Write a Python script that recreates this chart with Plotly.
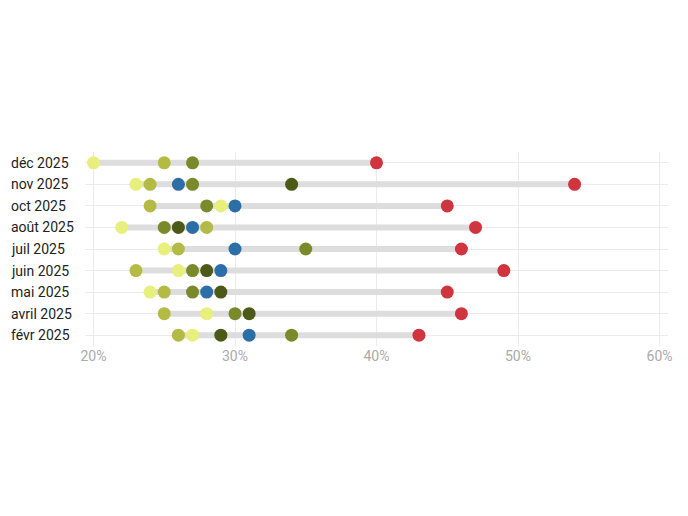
import plotly.graph_objects as go

months = ["déc 2025", "nov 2025", "oct 2025", "août 2025", "juil 2025",
          "juin 2025", "mai 2025", "avril 2025", "févr 2025"]

# values in percent, one list per series (None = absent)
s_yellow = [20, 23, 29, 22, 25, 26, 24, 28, 27]
s_light = [25, 24, 24, 28, 26, 23, 25, 25, 26]
s_mid = [27, 27, 28, 25, 35, 27, 27, 30, 34]
s_dark = [None, 34, None, 26, None, 28, 29, 31, 29]
s_blue = [None, 26, 30, 27, 30, 29, 28, None, 31]
s_red = [40, 54, 45, 47, 46, 49, 45, 46, 43]

series = [
    ("Série A", s_yellow, "#e8ef7c"),
    ("Série B", s_light, "#b3bb45"),
    ("Série C", s_mid, "#7a8a2a"),
    ("Série D", s_dark, "#4b5a17"),
    ("Série E", s_blue, "#2c6ea8"),
    ("Série F", s_red, "#d0343f"),
]

fig = go.Figure()

# range bars
lx, ly = [], []
for i, m in enumerate(months):
    vals = [s[1][i] for s in series if s[1][i] is not None]
    lx += [min(vals) / 100, max(vals) / 100, None]
    ly += [m, m, None]
fig.add_trace(go.Scatter(x=lx, y=ly, mode="lines",
                         line=dict(color="#dddddd", width=6),
                         hoverinfo="skip", showlegend=False))

for name, vals, col in series:
    xs = [v / 100 if v is not None else None for v in vals]
    fig.add_trace(go.Scatter(x=xs, y=months, mode="markers", name=name,
                             marker=dict(color=col, size=13, line=dict(width=0)),
                             showlegend=False))

for m in months:
    fig.add_annotation(x=-0.13, xref="paper", y=m, yref="y", text=m,
                       showarrow=False, xanchor="left",
                       font=dict(family="Roboto, sans-serif", size=14, color="#222222"))

fig.update_layout(
    width=688, height=516,
    margin=dict(l=77, r=28, t=144, b=178),
    plot_bgcolor="white", paper_bgcolor="white",
    font=dict(family="Roboto, sans-serif"),
    xaxis=dict(range=[0.194, 0.606], tickvals=[0.2, 0.3, 0.4, 0.5, 0.6],
               tickformat=".0%", showgrid=True, gridcolor="#ebebeb",
               zeroline=False, showline=False, ticklabelstandoff=0,
               tickfont=dict(size=14, color="#aaaaaa")),
    yaxis=dict(categoryorder="array", categoryarray=months,
               range=[8.5, -0.5], showticklabels=False,
               showgrid=True, gridcolor="#ebebeb", zeroline=False),
)

fig.write_html("out.html")
